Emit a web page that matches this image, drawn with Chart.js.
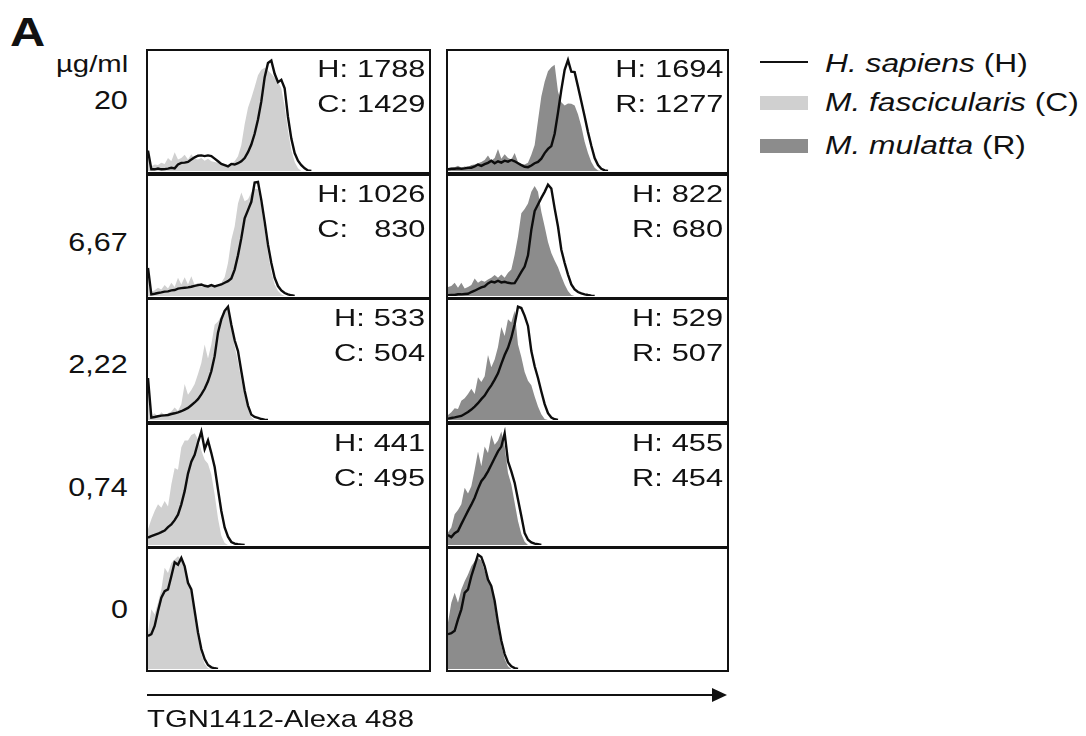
<!DOCTYPE html>
<html>
<head>
<meta charset="utf-8">
<script src="https://cdn.jsdelivr.net/npm/chart.js@4.4.1/dist/chart.umd.min.js"></script>
<style>
  body { margin: 0; background: #fff; }
  #fig { position: relative; width: 1086px; height: 736px; font-family: "Liberation Sans", Arial, sans-serif; color: #111; overflow: hidden; }
  .t { position: absolute; white-space: nowrap; line-height: 1; }
  .panel { position: absolute; box-sizing: border-box; border: 2.5px solid #111; }
  .panel canvas { display: block; }
  .note { position: absolute; display: grid; grid-template-columns: auto auto; column-gap: 7px; font-size: 24px; line-height: 35px; transform: scaleX(1.28); transform-origin: right top; }
  .note span:nth-child(2n) { text-align: right; }
  .sw { position: absolute; }
</style>
</head>
<body>
<div id="fig"></div>
<script>
// flow cytometry channel (bin) numbers
const channel = [0,1,2,3,4,5,6,7,8,9,10,11,12,13,14,15,16,17,18,19,20,21,22,23,24,25,26,27,28,29,
  30,31,32,33,34,35,36,37,38,39,40,41,42,43,44,45,46,47,48,49];

const concentrations = ["20", "6,67", "2,22", "0,74", "0"];

// counts, % of panel max — H. sapiens (left column, vs cyno)
const hC20  = [17,1.4,1.4,2,1.4,1.6,2,2.7,2.2,5.4,6.8,7,7.6,9.5,11.4,12.7,13,12.4,13,12.4,10.3,8.1,5.9,4.9,3.8,5.9,5.4,6.5,8.1,10.8,15.7,22,31,43,58,78,90,92,81,74,76,69,45,27,15,8.6,4.9,2.2,0.5,0];
const hC667 = [23.4,1.4,1.9,2.5,3,3.6,3.9,4.7,5,6.1,6.6,6.9,7.2,7.7,8.5,9.1,9.6,8.5,8,9.1,8,8.8,9.6,11,12.4,14.6,22,33.9,48.2,64.7,71.6,78.5,94.5,95,79.9,62,42.7,27.5,15.2,8.3,4.7,2.5,1.4,0.6,0];
const hC222 = [35,2,2.5,3.1,3.6,3.9,4.2,5,5.6,6.4,7.3,8.7,10.1,12.3,14.6,17.4,21.3,26,32.2,40.6,53.2,72.8,83.8,91,94.4,79.3,66.4,57.4,40.6,24.4,12,4.5,2.5,1.7,0.8,0.3,0];
const hC074 = [6.1,7.4,8.5,9.4,10.7,12.1,14.9,17.1,20.7,25.3,33.9,44.9,59.5,69.4,75.2,85.4,94.5,79.9,87.1,76.6,65,46.3,28.4,14.6,6.9,2.5,1.1,0.6,0.3,0];
const hC0   = [27.6,29,35.9,48.3,59.4,64.9,66.3,77.3,89,87,92.5,85.6,71.8,66.3,48.3,30.4,16.6,8.3,3.3,1.4,0.6,0];

// M. fascicularis (C)
const cyno20  = [16,4,5.4,4.9,6.8,5.9,10.8,8.1,15.7,9.5,10.8,13.5,9.5,14,10.3,9.5,10.8,8.6,10.3,8.1,7.6,6.8,5.4,5.9,4.9,6.5,8.1,12.2,21.6,39,52.7,60.8,70,79.7,84.3,86,83.8,81,77.8,74.3,69,54,33.8,17.6,7.6,2.2,0];
const cyno667 = [23.4,3.6,4.7,6.9,5.5,9.1,6.3,11,7.4,15.2,9.6,15.7,9.6,16.5,9.1,11,8,9.6,7.4,8.3,6.9,9.1,11,15.7,27.5,46.8,57.9,77.1,86.2,79,80.7,86.2,89.5,89,74.4,55,35.8,20.1,9.6,4.1,1.4,0];
const cyno222 = [35,3.6,5.6,2.8,6.4,4.2,5.6,7,10.4,7.6,13.2,30,21,24.9,30,38.4,47.6,63,51.3,63,79.3,82.1,86.8,91.6,91.6,77,61.6,48.5,33.6,20.4,9.2,2.5,0];
const cyno074 = [13.2,21.5,28.4,33.9,31.1,36.6,32,50.4,64.2,62.8,81.5,87,87,91.7,93.1,88.2,78.8,71.1,67.8,58.7,42.1,22,7.7,1.7,0];
const cyno0   = [30.4,49.7,45.6,55.2,66.3,84.3,80.1,88.4,91.2,93.9,91.2,82.9,74.6,63.5,42.8,25.4,12.4,4.1,0.6,0];

// H. sapiens (right column, vs rhesus)
const hR20  = [1.4,1.9,1.9,2.2,1.9,2.2,2.7,2.7,3.8,5.4,4.3,5.7,6.8,8.6,6.5,8.1,7,8.6,7.8,9.2,8.1,6.5,4.9,3.5,3.2,4.6,6.5,7.6,10.3,14.9,18.4,20.8,31,48.6,67.6,84.3,92.4,82.7,82.4,70.3,58,45.4,32.4,21,10.8,4.9,1.9,0.5,0];
const hR667 = [0.6,0.8,0.8,1.4,1.4,1.7,1.9,3.3,4.4,5.8,7.2,8,10.5,12.1,11.3,12.7,11.3,11.8,11,10.5,10.7,15.2,20.1,24.5,33.9,55.1,70.8,76.3,81.8,86.8,92.8,89.5,73,57.9,38.6,27.5,17.9,9.6,5.5,3.3,2.2,1.4,0.8,0.3,0];
const hR222 = [1.1,1.7,2.2,2.8,3.4,5,6.7,8.7,11.2,14,17.4,20.4,24.9,28.9,33.6,38.9,46.8,54.1,60.2,68.6,79.8,94.4,93.3,86.8,78.4,57.4,44.8,35,23.8,13.2,5.6,2,0.6,0];
const hR074 = [8.3,6.6,9.9,11.6,17.4,22.9,28.4,33.6,39.4,46.8,53.2,56.7,61.4,66.9,72.5,78,82,93,69.7,61.4,51.8,38,24.2,9.9,4.4,2.2,1.1,0.6,0];
const hR0   = [29,29.8,31.8,41.4,49.7,63.5,66.3,77.3,86.2,95.3,93.4,85.6,74.6,69.1,56.6,38.7,23.5,12.4,5.5,2.2,0.8,0];

// M. mulatta (R)
const rhesus20  = [2.2,2.7,3.2,4.3,2.7,3.8,3.2,4.9,5.4,6.5,7.6,9.2,13,8.6,10.8,18.4,10.3,14,10.8,9.5,14.9,7.6,5.9,5.4,6.8,13.5,21.6,42,62,74.3,83.2,86.5,88.6,66.2,57.3,54.6,56.2,56,54.6,47.3,37.3,24.3,14.9,7.6,2.7,0.5,0];
const rhesus667 = [7.4,8.3,11,6.9,11,6.3,7.4,9.1,14.6,11,12.9,11.8,13.8,15.2,17.4,15.2,17.9,15.2,19.3,22,34.4,49.6,68.9,72.5,77.1,86.8,91.7,86.8,70.2,57.9,44.9,35.8,29.5,24,16.5,9.6,4.1,0.8,0];
const rhesus222 = [4.2,6.4,9.8,9.2,16,18.2,21.6,26,21.6,35.6,31.7,36.4,54.1,44,50.4,60.8,77.6,70,84,81.2,91,63,52.4,40,32.8,28.9,19.6,11.2,4.8,0.8,0];
const rhesus074 = [10.5,14.6,25.6,29.2,33.9,47.7,43,49,62.8,78,65.6,82.1,76.6,91.7,83.5,87,94.5,82.1,60,50.4,35.3,20.1,9.1,2.8,0];
const rhesus0   = [38.7,55.2,63.5,55.2,66.3,73.2,78.7,85.6,89.8,92.5,90.6,81.5,74,70.4,52.5,34.5,19.3,8.3,2.2,0];

// MFI values printed in the panels
const mfiHC = [1788, 1026, 533, 441];
const mfiC  = [1429, 830, 504, 495];
const mfiHR = [1694, 822, 529, 455];
const mfiR  = [1277, 680, 507, 454];

const LIGHT = "#d0d0d0", DARK = "#8c8c8c";
const STRETCH = 1.22;
const fig = document.getElementById("fig");

function text(str, x, baseline, size, opts = {}) {
  const d = document.createElement("div");
  d.className = "t";
  d.style.fontSize = size + "px";
  d.style.top = (baseline - 0.8465 * size) + "px";
  if (opts.right) d.style.right = (1086 - x) + "px"; else d.style.left = x + "px";
  if (opts.bold) d.style.fontWeight = "bold";
  d.style.transform = `scaleX(${STRETCH})`;
  d.style.transformOrigin = opts.right ? "right top" : "left top";
  d.innerHTML = str;
  fig.appendChild(d);
  return d;
}

const pts = (arr) => arr.map((v, i) => ({ x: channel[i], y: v }));

function panel(left, top, w, h, fillArr, fillColor, lineArr) {
  const box = document.createElement("div");
  box.className = "panel";
  Object.assign(box.style, { left: left + "px", top: top + "px", width: w + "px", height: h + "px" });
  const cv = document.createElement("canvas");
  cv.width = w - 5; cv.height = h - 5;
  box.appendChild(cv);
  fig.appendChild(box);
  new Chart(cv, {
    type: "line",
    data: {
      datasets: [
        { data: pts(lineArr), borderColor: "#0d0d0d", borderWidth: 2.4, fill: false, pointRadius: 0, order: 0 },
        { data: pts(fillArr), backgroundColor: fillColor, borderWidth: 0, fill: "origin", pointRadius: 0, order: 1 }
      ]
    },
    options: {
      responsive: false, animation: false, events: [],
      layout: { padding: 0 },
      plugins: { legend: { display: false }, tooltip: { enabled: false } },
      scales: {
        x: { type: "linear", display: false, min: 0, max: (w - 5) / 3.333 },
        y: { display: false, min: 0, max: 100 }
      }
    }
  });
}

function note(rightX, top, rows) {
  const d = document.createElement("div");
  d.className = "note";
  d.style.right = (1086 - rightX) + "px";
  d.style.top = top + "px";
  d.innerHTML = rows.map(r => `<span>${r[0]}</span><span>${r[1]}</span>`).join("");
  fig.appendChild(d);
}

const rowTops = [49, 174, 298, 423, 547];
const leftSeries  = [[cyno20, hC20], [cyno667, hC667], [cyno222, hC222], [cyno074, hC074], [cyno0, hC0]];
const rightSeries = [[rhesus20, hR20], [rhesus667, hR667], [rhesus222, hR222], [rhesus074, hR074], [rhesus0, hR0]];

rowTops.forEach((top, r) => {
  panel(146, top, 285, 125, leftSeries[r][0], LIGHT, leftSeries[r][1]);
  panel(446, top, 283, 125, rightSeries[r][0], DARK, rightSeries[r][1]);
  if (r < 4) {
    note(425, top + 2, [["H:", mfiHC[r]], ["C:", mfiC[r]]]);
    note(723, top + 2, [["H:", mfiHR[r]], ["R:", mfiR[r]]]);
  }
});

// labels on the left
text("A", 10, 46, 40, { bold: true });
text("µg/ml", 128, 72, 24, { right: true });
const concBase = [109, 251, 373, 496, 618];
concentrations.forEach((c, i) => text(c, 128, concBase[i], 25, { right: true }));

// legend
const line = document.createElement("div");
line.className = "sw";
Object.assign(line.style, { left: "760px", top: "61px", width: "48px", height: "2px", background: "#111" });
fig.appendChild(line);
[[LIGHT, 96], [DARK, 139]].forEach(([c, y]) => {
  const s = document.createElement("div");
  s.className = "sw";
  Object.assign(s.style, { left: "760px", top: y + "px", width: "48px", height: "14px", background: c });
  fig.appendChild(s);
});
text("<i>H. sapiens</i> (H)", 825, 72, 26);
text("<i>M. fascicularis</i> (C)", 825, 111, 26);
text("<i>M. mulatta</i> (R)", 825, 154, 26);

// x axis arrow + title
fig.insertAdjacentHTML("beforeend",
  '<svg style="position:absolute;left:0;top:0" width="1086" height="736">' +
  '<line x1="147" y1="695" x2="714" y2="695" stroke="#111" stroke-width="2"/>' +
  '<polygon points="712,688 727,695 712,702" fill="#111"/></svg>');
text("TGN1412-Alexa 488", 147, 727, 24);
</script>
</body>
</html>
